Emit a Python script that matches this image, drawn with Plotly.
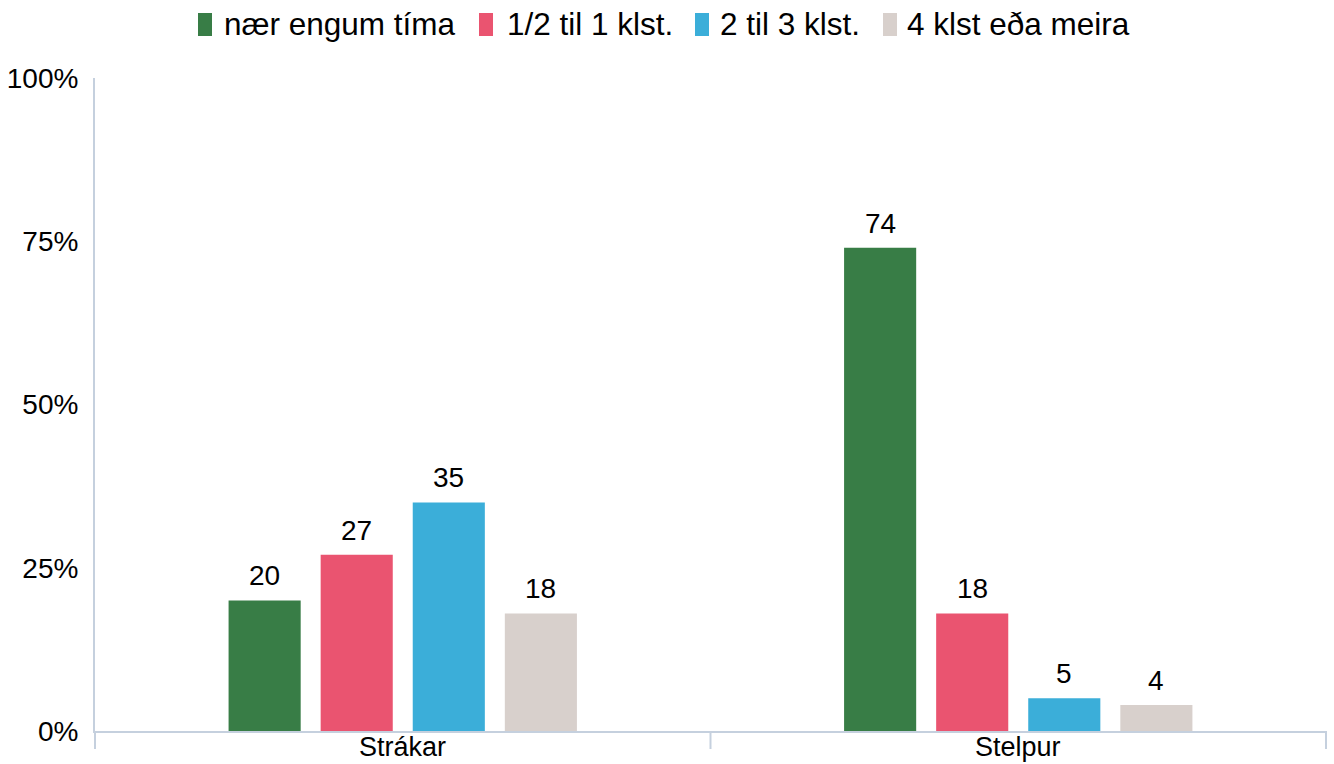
import plotly.graph_objects as go

categories = ["Strákar", "Stelpur"]
series_names = ["nær engum tíma", "1/2 til 1 klst.", "2 til 3 klst.", "4 klst eða meira"]
val_naer = [20, 74]
val_half = [27, 18]
val_23 = [35, 5]
val_4 = [18, 4]
series_values = [val_naer, val_half, val_23, val_4]
colors = ["#387D46", "#EA5470", "#3BAED9", "#D8D0CC"]
y_ticks = [0, 25, 50, 75, 100]
y_tick_labels = ["0%", "25%", "50%", "75%", "100%"]

FONT = "Liberation Sans, Arial, sans-serif"
W, H = 1334, 764
ML, MR, MT, MB = 95, 8, 78, 33
PW = W - ML - MR
PH = H - MT - MB
AXIS_COLOR = "#C5D0DE"
BAR_PITCH = 92  # px between neighbouring bars inside a group


def px_x(px):
    return (px - ML) / PW


def px_y(py):
    return (H - MB - py) / PH


fig = go.Figure()
annotations = []
for i, (name, vals, col) in enumerate(zip(series_names, series_values, colors)):
    fig.add_trace(go.Bar(
        x=categories, y=vals, name=name, marker=dict(color=col, line=dict(width=0)),
        showlegend=False, hoverinfo="skip",
    ))
    for cat, v in zip(categories, vals):
        annotations.append(dict(x=cat, y=v, xref="x", yref="y", text=str(v),
                                showarrow=False, xanchor="center", yanchor="bottom",
                                xshift=(i - 1.5) * BAR_PITCH, yshift=7,
                                font=dict(family=FONT, size=28, color="#000000")))

# category labels under the axis
for cat in categories:
    annotations.append(dict(x=cat, xref="x", yref="paper", y=px_y(747), text=cat,
                            showarrow=False, xanchor="center", yanchor="middle",
                            borderpad=0,
                            font=dict(family=FONT, size=27, color="#000000")))

shapes = []
# manual legend
legend_pos = [(198, 225), (479, 508), (695, 721), (883, 908)]
for (rx, tx), name, col in zip(legend_pos, series_names, colors):
    shapes.append(dict(type="rect", xref="paper", yref="paper",
                       x0=px_x(rx), x1=px_x(rx + 14), y0=px_y(36), y1=px_y(13),
                       fillcolor=col, line=dict(width=0)))
    annotations.append(dict(xref="paper", yref="paper", x=px_x(tx - 3), y=px_y(24),
                            xanchor="left", yanchor="middle", showarrow=False,
                            text=name, font=dict(family=FONT, size=31.5, color="#000000")))
# x-axis boundary ticks
for xp in [0, 0.5, 1]:
    shapes.append(dict(type="line", xref="paper", yref="paper", x0=xp, x1=xp,
                       y0=0, y1=px_y(749), line=dict(color=AXIS_COLOR, width=2)))

fig.update_layout(
    width=W, height=H,
    margin=dict(l=ML, r=MR, t=MT, b=MB, autoexpand=False),
    paper_bgcolor="white", plot_bgcolor="white",
    barmode="group", bargap=0.4016, bargroupgap=0.217,
    shapes=shapes, annotations=annotations,
    showlegend=False, hovermode=False,
    font=dict(family=FONT, color="#000000"),
)
fig.update_xaxes(showline=True, linecolor=AXIS_COLOR, linewidth=2, ticks="",
                 showticklabels=False,
                 showgrid=False, zeroline=False, automargin=False)
fig.update_yaxes(range=[0, 100], tickvals=y_ticks, ticktext=y_tick_labels,
                 showline=True, linecolor=AXIS_COLOR, linewidth=2, ticks="",
                 showgrid=False, zeroline=False, ticklabelstandoff=9, automargin=False,
                 tickfont=dict(family=FONT, size=28, color="#000000"))

fig.write_html("out.html", config={"displayModeBar": False, "staticPlot": True},
               post_script="document.body.style.margin='0px';document.body.style.overflow='hidden';")
